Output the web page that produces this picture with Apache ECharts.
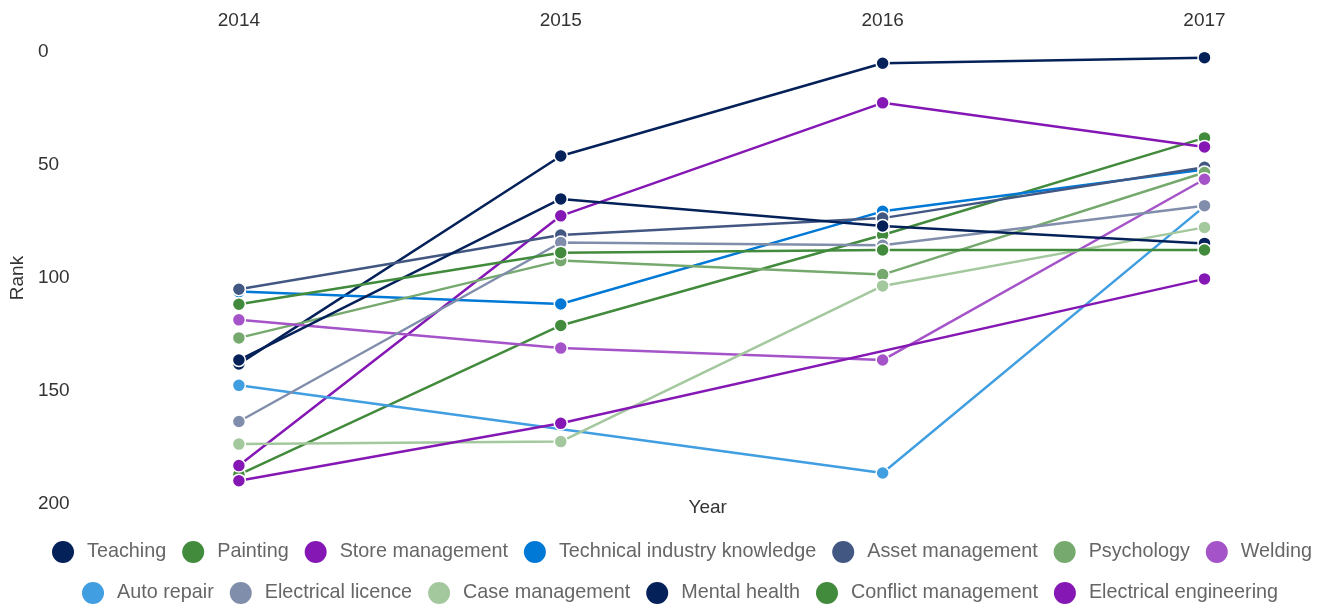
<!DOCTYPE html>
<html>
<head>
<meta charset="utf-8">
<script src="https://cdn.jsdelivr.net/npm/echarts@6/dist/echarts.min.js"></script>
<style>
html, body { margin: 0; padding: 0; background: #fff; }
#chart { width: 1330px; height: 608px; }
</style>
</head>
<body>
<div id="chart"></div>
<script>
// years along the top axis
var years = ['2014', '2015', '2016', '2017'];

// rank per year, null where the skill has no rank that year
var teaching = [138, 46, 5, 2.5];
var painting = [187, 121, 81, 38];
var storeManagement = [183, 72.5, 22.5, 42];
var technicalKnowledge = [106, 111.5, 70.5, 52];
var assetManagement = [105, 81, 73.5, 51];
var psychology = [126.5, 92.3, 98.5, 53.3];
var welding = [118.5, 131, 136.3, 56.3];
var autoRepair = [147.5, null, 186.3, 68.3];
var electricalLicence = [163.5, 84.3, 85.5, 68];
var caseManagement = [173.5, 172.4, 103.5, 77.6];
var mentalHealth = [136.3, 65, 77, 84.7];
var conflictManagement = [111.6, 88.8, 87.6, 87.6];
var electricalEngineering = [189.7, 164.3, null, 100.4];

var names = ['Teaching', 'Painting', 'Store management', 'Technical industry knowledge',
	'Asset management', 'Psychology', 'Welding', 'Auto repair', 'Electrical licence',
	'Case management', 'Mental health', 'Conflict management', 'Electrical engineering'];
var values = [teaching, painting, storeManagement, technicalKnowledge, assetManagement,
	psychology, welding, autoRepair, electricalLicence, caseManagement, mentalHealth,
	conflictManagement, electricalEngineering];
var colors = ['#05215a', '#428b3c', '#8518b5', '#0078d6', '#435783', '#76a96e',
	'#a553c8', '#409ee1', '#808eab', '#a4c89e', '#05215a', '#428b3c', '#8518b5'];

var chart = echarts.init(document.getElementById('chart'));

var series = [];
for (var i = 0; i < names.length; i++) {
	series.push({
		name: names[i],
		type: 'line',
		data: values[i],
		connectNulls: true,
		symbol: 'circle',
		symbolSize: 13,
		lineStyle: { width: 2.5, color: colors[i] },
		itemStyle: { color: colors[i], borderColor: '#fff', borderWidth: 1.5 },
		emphasis: { disabled: true },
		animation: false
	});
}

var legendStyle = {
	icon: 'circle',
	padding: 0,
	width: 1300,
	itemWidth: 22,
	itemHeight: 22,
	itemGap: 16,
	itemStyle: { borderWidth: 0 },
	textStyle: { fontFamily: 'Liberation Sans, Arial, sans-serif', fontSize: 19.8, color: '#666', padding: [0, 0, 0, 8] }
};

var option = {
	backgroundColor: '#fff',
	color: colors,
	textStyle: { fontFamily: 'Liberation Sans, Arial, sans-serif' },
	grid: { left: 238.5, right: 125.5, top: 52, bottom: 104 },
	legend: [
		Object.assign({ data: names.slice(0, 7), left: 52, top: 541 }, legendStyle),
		Object.assign({ data: names.slice(7), left: 82, top: 582 }, legendStyle)
	],
	xAxis: [
		{
			type: 'category',
			position: 'top',
			data: years,
			boundaryGap: false,
			axisLine: { show: false },
			axisTick: { show: false },
			splitLine: { show: false },
			axisLabel: { fontSize: 19, color: '#333', margin: 22 }
		},
		{
			type: 'category',
			position: 'bottom',
			data: years,
			boundaryGap: false,
			name: 'Year',
			nameLocation: 'middle',
			nameGap: -6,
			nameTextStyle: { fontSize: 19, color: '#333', padding: [0, 28, 0, 0] },
			axisLine: { show: false },
			axisTick: { show: false },
			axisLabel: { show: false },
			splitLine: { show: false }
		}
	],
	yAxis: {
		type: 'value',
		inverse: true,
		min: 0,
		max: 200,
		interval: 50,
		name: 'Rank',
		nameLocation: 'middle',
		nameGap: 209,
		nameTextStyle: { fontSize: 19, color: '#333' },
		axisLine: { show: false },
		axisTick: { show: false },
		splitLine: { show: false },
		axisLabel: { fontSize: 19, color: '#333', align: 'left', margin: 201, padding: [4, 0, 0, 0] }
	},
	series: series
};

chart.setOption(option);
</script>
</body>
</html>
